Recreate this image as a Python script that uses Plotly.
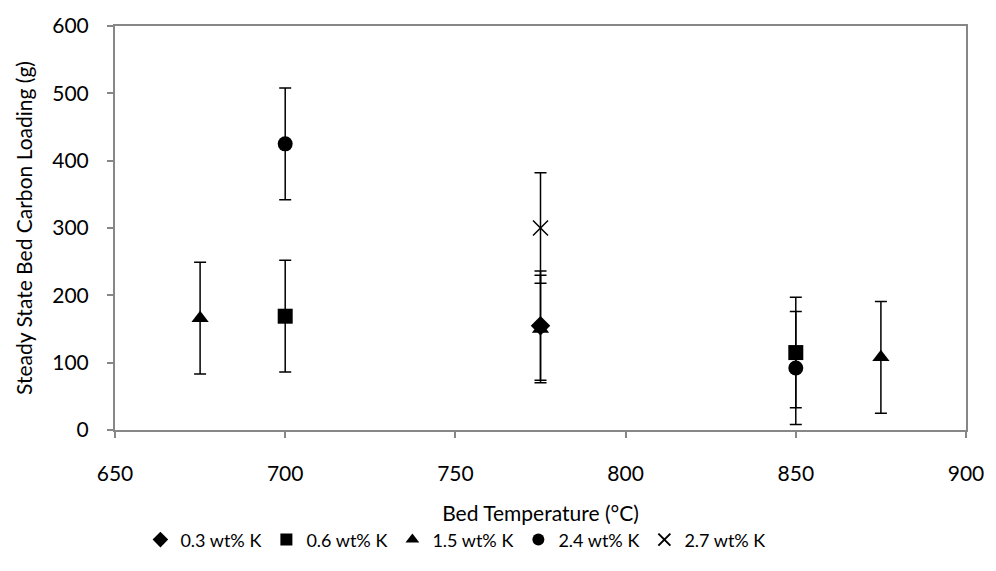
import plotly.graph_objects as go

series_names = ["0.3 wt% K", "0.6 wt% K", "1.5 wt% K", "2.4 wt% K", "2.7 wt% K"]
series_symbols = ["diamond", "square", "triangle-up", "circle", "x-thin-open"]
temps = {
    "0.3 wt% K": [775],
    "0.6 wt% K": [700, 850],
    "1.5 wt% K": [675, 775, 875],
    "2.4 wt% K": [700, 850],
    "2.7 wt% K": [775],
}
loading = {
    "0.3 wt% K": [155],
    "0.6 wt% K": [169, 115],
    "1.5 wt% K": [166, 150, 108],
    "2.4 wt% K": [425, 92],
    "2.7 wt% K": [300],
}
errors = {
    "0.3 wt% K": [81],
    "0.6 wt% K": [83, 82],
    "1.5 wt% K": [83, 80, 83],
    "2.4 wt% K": [83, 84],
    "2.7 wt% K": [82],
}
x_ticks = [650, 700, 750, 800, 850, 900]
y_ticks = [0, 100, 200, 300, 400, 500, 600]

font_family = "Lato, 'Open Sans', sans-serif"
fs = 21

fig = go.Figure()
for name, sym in zip(series_names, series_symbols):
    is_x = sym.startswith("x")
    fig.add_trace(go.Scatter(
        x=temps[name], y=loading[name], name=name, mode="markers",
        marker=dict(symbol=sym, color="black", size=15,
                    line=dict(color="black", width=1.5 if is_x else 0)),
        error_y=dict(type="data", array=errors[name], visible=True,
                     color="black", thickness=1.5, width=6),
    ))

axis_common = dict(
    showgrid=False, zeroline=False, showline=True, linecolor="#878787",
    linewidth=2, mirror=True, ticks="outside", tickcolor="#878787",
    ticklen=6, tickwidth=1.5, tickfont=dict(size=fs, color="black", family=font_family),
)
fig.update_xaxes(range=[650, 900], tickvals=x_ticks, ticklabelstandoff=18,
                 title=dict(text="Bed Temperature (°C)", font=dict(size=fs, color="black", family=font_family), standoff=22),
                 **axis_common)
fig.update_yaxes(range=[0, 600], tickvals=y_ticks, ticklabelstandoff=14,
                 title=dict(text="Steady State Bed Carbon Loading (g)", font=dict(size=fs, color="black", family=font_family), standoff=14),
                 **axis_common)

fig.update_layout(
    width=996, height=571,
    margin=dict(l=115, r=22, t=22, b=131),
    plot_bgcolor="white", paper_bgcolor="white",
    font=dict(family=font_family, color="black", size=fs),
    showlegend=True,
    legend=dict(orientation="h", x=0.40, xanchor="center", y=-0.272, yanchor="middle",
                font=dict(size=18, family=font_family), itemwidth=30,
                tracegroupgap=0, itemsizing="constant"),
)

fig.write_html("out.html")
